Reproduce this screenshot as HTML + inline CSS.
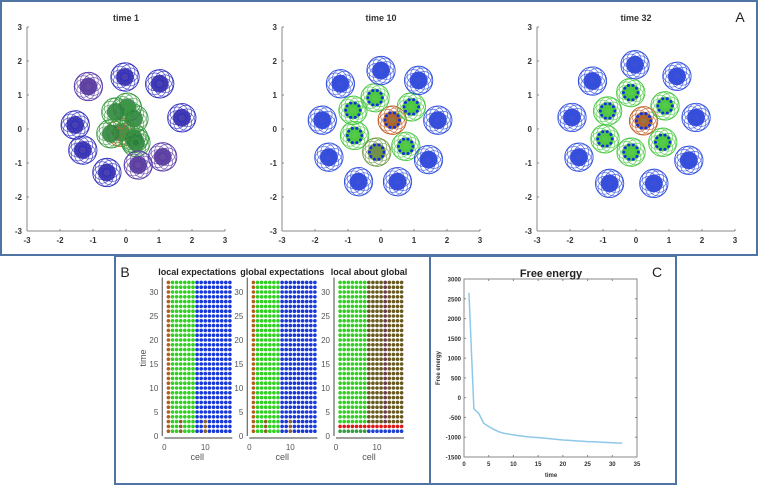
<!DOCTYPE html>
<html><head><meta charset="utf-8">
<style>
body{margin:0;background:#fff;font-family:"Liberation Sans",sans-serif;}
svg{display:block}
text{font-family:"Liberation Sans",sans-serif;}
</style></head>
<body>
<svg id="fig" width="759" height="495" viewBox="0 0 759 495">
<rect x="1" y="1" width="756" height="254" fill="none" stroke="#4f74a3" stroke-width="2"/>
<rect x="115" y="256" width="315" height="228" fill="none" stroke="#4f74a3" stroke-width="2"/>
<rect x="430" y="256" width="246" height="228" fill="none" stroke="#4f74a3" stroke-width="2"/>
<text x="740" y="22" font-size="14" fill="#222" text-anchor="middle">A</text>
<text x="125" y="277" font-size="14" fill="#222" text-anchor="middle">B</text>
<text x="657" y="277" font-size="14" fill="#222" text-anchor="middle">C</text>
<g id="gA"></g><g id="gB"></g><g id="gC"></g>
</svg>
<script>
// ---- Panel A data ----
const snapTitles=["time 1","time 10","time 32"];
const cellTypes=["o","g","g","g","g","g","g","b","b","b","b","b","b","b","b","b"];
const posT1X=[-0.15,0.04,0.24,-0.31,-0.46,0.24,0.30,-1.14,-0.03,1.02,1.69,-1.54,-1.31,-0.58,0.37,1.11];
const posT1Y=[-0.10,0.64,0.30,0.50,-0.14,-0.28,-0.40,1.25,1.53,1.33,0.33,0.12,-0.62,-1.28,-1.06,-0.82];
const posT10X=[0.34,-0.18,0.92,-0.85,-0.80,-0.13,0.75,0,1.14,-1.23,1.72,-1.78,-1.58,1.44,-0.68,0.50];
const posT10Y=[0.26,0.92,0.65,0.55,-0.19,-0.68,-0.51,1.72,1.43,1.33,0.26,0.26,-0.83,-0.90,-1.55,-1.55];
const posT32X=[0.23,-0.16,0.88,-0.86,-0.94,-0.15,0.81,-0.03,1.24,-1.32,1.82,-1.94,-1.73,1.60,-0.80,0.54];
const posT32Y=[0.24,1.07,0.68,0.53,-0.29,-0.68,-0.39,1.89,1.55,1.41,0.34,0.34,-0.83,-0.92,-1.60,-1.60];
const axisTicks=[-3,-2,-1,0,1,2,3];
// ---- Panel B data ----
const gridTitles=["local expectations","global expectations","local about global"];
const colClassLocal=["o","g","g","g","g","g","g","b","b","b","b","b","b","b","b","b"];
const colClassLocalAbout=["g","g","g","g","g","g","g","m","m","m","m","p","m","m","m","m"];
const timeTicks=[0,5,10,15,20,25,30];
const cellTicks=[0,10];
// ---- Panel C data ----
const feTime=[1,2,3,4,5,6,7,8,9,10,11,12,13,14,15,16,17,18,19,20,21,22,23,24,25,26,27,28,29,30,31,32];
const feValues=[2650,-280,-400,-650,-730,-800,-860,-900,-920,-940,-960,-975,-990,-1000,-1010,-1020,-1032,-1045,-1058,-1070,-1078,-1086,-1094,-1102,-1110,-1116,-1122,-1128,-1134,-1140,-1145,-1150];
const feYTicks=[-1500,-1000,-500,0,500,1000,1500,2000,2500,3000];
const feXTicks=[0,5,10,15,20,25,30,35];

const NS="http://www.w3.org/2000/svg";
function mk(tag,attrs,parent,txt){const e=document.createElementNS(NS,tag);for(const k in attrs)e.setAttribute(k,attrs[k]);if(txt!==undefined)e.textContent=txt;parent.appendChild(e);return e;}

// Panel A
const gA=document.getElementById('gA');
const panelX0=[27,282,537];
const posX=[posT1X,posT10X,posT32X], posY=[posT1Y,posT10Y,posT32Y];
const strokeC={o:["#c06a30","#c05a20"],g:["#3a9a40","#48c840"],b:["#3030c0","#2f4fe0"]};
const fillC={o:["#7a4a50","#8a5a20"],g:["#2a7a40","#38c028"],b:["#2a20a0","#1a30d0"]};
for(let p=0;p<3;p++){
  const L=panelX0[p], R=L+198, T=27, B=231;
  const sx=v=>L+(v+3)*(R-L)/6, sy=v=>B-(v+3)*(B-T)/6;
  const g=mk('g',{},gA);
  
  
  const t=mk('text',{x:(L+R)/2,y:21,'font-size':9,'font-weight':'bold','text-anchor':'middle',fill:'#333'},g,snapTitles[p]);
  
  
  mk('line',{x1:L,y1:B,x2:R,y2:B,stroke:'#888','stroke-width':1},g);
  mk('line',{x1:L,y1:T,x2:L,y2:B,stroke:'#888','stroke-width':1},g);
  axisTicks.forEach(v=>{
    mk('line',{x1:sx(v),y1:B,x2:sx(v),y2:B-2,stroke:'#888'},g);
    mk('line',{x1:L,y1:sy(v),x2:L+2,y2:sy(v),stroke:'#888'},g);
    const a=mk('text',{x:sx(v),y:B+12,'font-size':8,'font-weight':'bold','text-anchor':'middle',fill:'#333'},g,v);
    
    
    const b=mk('text',{x:L-5,y:sy(v)+3,'font-size':8,'font-weight':'bold','text-anchor':'end',fill:'#333'},g,v);
    
    
  });
  const k=p===0?0:1;
  const ux=(R-L)/6, uy=(B-T)/6;
  for(let i=0;i<cellTypes.length;i++){
    let ty=cellTypes[i];
    if(p===0 && i>0 && i<7) ty='g';
    const cx=sx(posX[p][i]), cy=sy(posY[p][i]);
    const cg=mk('g',{},g);
    
    
    let sc=strokeC[ty][k], fc=fillC[ty][k];
    if(p===0 && ty==='b' && (i===7||i===14||i===15)) {sc='#5a3aa8';fc='#4a2a90';}
    if(p===1 && i===5){sc='#6a9a40';fc='#5a7a30';}
    mk('circle',{cx:cx,cy:cy,r:0.27*ux,fill:fc,opacity:0.85},cg);
    for(let j=0;j<9;j++){
      const a=j*2*Math.PI/9;
      mk('circle',{cx:cx+0.16*ux*Math.cos(a),cy:cy+0.16*uy*Math.sin(a),r:0.27*ux,fill:'none',stroke:sc,'stroke-width':0.7,opacity:0.8},cg);
    }
    mk('circle',{cx:cx,cy:cy,r:0.43*ux,fill:'none',stroke:sc,'stroke-width':0.8},cg);
    if(ty!=='b' && p>0){
      for(let j=0;j<10;j++){const a=j*2*Math.PI/10;
        mk('circle',{cx:cx+0.22*ux*Math.cos(a),cy:cy+0.22*uy*Math.sin(a),r:1.5,fill:'#1030e0'},cg);}
    }
  }
}

// Panel B
const gB=document.getElementById('gB');
const gx0=[164.3,249.3,336], yB=436, yPer=4.8, xPer=4.1;
const colorMap={o:'#b06018',g:'#30d020',b:'#1838d8',m:'#6a5a20',p:'#6a3a50'};
for(let s=0;s<3;s++){
  const L=gx0[s], sx=v=>L+v*xPer, sy=v=>yB-v*yPer;
  const g=mk('g',{},gB);
  
  
  const t=mk('text',{x:L+33,y:275,'font-size':9,'font-weight':'bold','text-anchor':'middle',fill:'#222'},g,gridTitles[s]);
  
  
  mk('line',{x1:L,y1:yB+2,x2:L+68,y2:yB+2,stroke:'#666','stroke-width':1.2},g);
  mk('line',{x1:L-2,y1:yB,x2:L-2,y2:sy(33),stroke:'#666','stroke-width':1.2},g);
  const cls=s===2?colClassLocalAbout:colClassLocal;
  for(let r=1;r<=32;r++){
    for(let c=1;c<=16;c++){
      let col=colorMap[cls[c-1]];
      if(s===2&&r===2) col='#e01818';
      if(s===2&&r===1) col=c<=7?'#30a040':'#2040d0';
      if(s<2&&r<=3&&(c===4||c===10)) col='#8a6030';
      const d=mk('circle',{cx:sx(c),cy:sy(r),r:1.8,fill:col},g);
      
      
    }
  }
  timeTicks.forEach(v=>{const a=mk('text',{x:L-6,y:sy(v)+3,'font-size':8,'text-anchor':'end',fill:'#555'},g,v);
    
    });
  cellTicks.forEach(v=>{const a=mk('text',{x:sx(v),y:yB+14,'font-size':8,'text-anchor':'middle',fill:'#555'},g,v);
    
    });
  const xl=mk('text',{x:L+33,y:460,'font-size':9,'text-anchor':'middle',fill:'#555'},g,'cell');
  
  
}
const tl=mk('text',{x:146,y:358,'font-size':9,'text-anchor':'middle',fill:'#555',transform:'rotate(-90 146 358)'},gB,'time');



// Panel C
const gC=document.getElementById('gC');
const CL=464,CR=637,CT=279,CB=457;
const cx=v=>CL+v*(CR-CL)/35, cy=v=>CB-(v+1500)*(CB-CT)/4500;
mk('rect',{x:CL,y:CT,width:CR-CL,height:CB-CT,fill:'none',stroke:'#888','stroke-width':1},gC);
const ct=mk('text',{x:551,y:277,'font-size':11,'font-weight':'bold','text-anchor':'middle',fill:'#222'},gC,'Free energy');


feYTicks.forEach(v=>{
  mk('line',{x1:CL,y1:cy(v),x2:CL+2,y2:cy(v),stroke:'#888'},gC);
  mk('line',{x1:CR,y1:cy(v),x2:CR-2,y2:cy(v),stroke:'#888'},gC);
  const a=mk('text',{x:CL-3,y:cy(v)+2.5,'font-size':6,'font-weight':'bold','text-anchor':'end',fill:'#333'},gC,v);
  
  
});
feXTicks.forEach(v=>{
  mk('line',{x1:cx(v),y1:CB,x2:cx(v),y2:CB-2,stroke:'#888'},gC);
  mk('line',{x1:cx(v),y1:CT,x2:cx(v),y2:CT+2,stroke:'#888'},gC);
  const a=mk('text',{x:cx(v),y:CB+9,'font-size':6,'font-weight':'bold','text-anchor':'middle',fill:'#333'},gC,v);
  
  
});
const cxl=mk('text',{x:551,y:477,'font-size':6,'font-weight':'bold','text-anchor':'middle',fill:'#333'},gC,'time');


const cyl=mk('text',{x:440,y:368,'font-size':6,'font-weight':'bold','text-anchor':'middle',fill:'#333',transform:'rotate(-90 440 368)'},gC,'Free energy');


const pts=feTime.map((t,i)=>cx(t)+','+cy(feValues[i])).join(' ');
const line=mk('polyline',{points:pts,fill:'none',stroke:'#8ec8e8','stroke-width':1.5},gC);


</script>
</body></html>
